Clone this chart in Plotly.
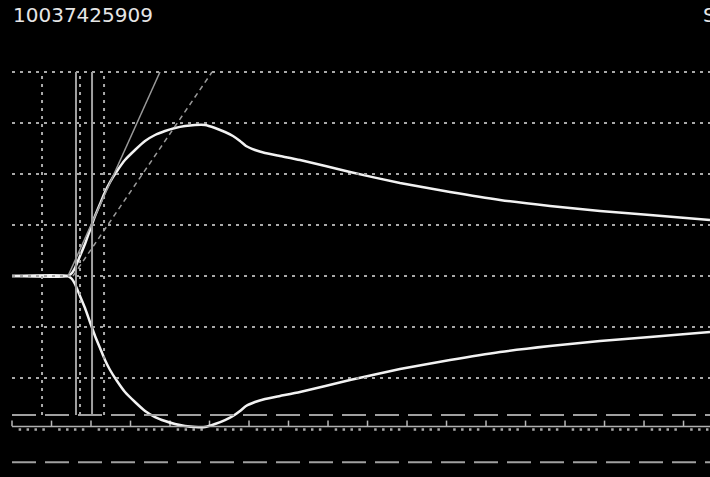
import plotly.graph_objects as go

# Trace timing (minutes) and half-amplitude (mm) of the clot trace
time_min = [0.0, 7.09, 7.59, 7.97, 8.61, 9.24, 9.87, 10.51, 11.14, 11.77, 12.41,
            13.29, 14.30, 15.57, 16.84, 18.10, 19.37, 20.63, 21.90, 23.16, 24.43,
            25.70, 26.96, 27.97, 28.86, 29.62, 30.76, 32.03, 33.92, 36.46, 42.78,
            49.11, 55.44, 61.77, 68.10, 74.43, 80.76, 88.35]
amplitude_mm = [0.0, 0.0, 0.59, 1.57, 3.92, 6.27, 9.02, 11.76, 14.12, 16.47, 18.43,
                20.59, 22.75, 24.71, 26.47, 27.65, 28.43, 29.02, 29.41, 29.61, 29.61,
                29.02, 28.24, 27.45, 26.47, 25.49, 24.71, 24.12, 23.53, 22.75, 20.39,
                18.24, 16.47, 14.90, 13.73, 12.75, 11.96, 10.98]

# Marker positions (minutes)
dotted_markers = [3.80, 8.61, 11.65]
solid_markers = [8.10, 10.13]
# Tangent lines: (start time, end time) from baseline to the 40 mm grid line
tangent_solid = (7.09, 18.73)
tangent_dashed = (7.72, 25.32)

grid_levels = [40, 30, 20, 10, 0, -10, -20]
dashed_levels = [-27.25, -36.5]
time_axis_level = -29.5
marker_top, marker_bottom = 40, -27.25

sample_id = "10037425909"

X_RANGE = [-1.519, 88.35]
Y_RANGE = [-39.41, 54.12]
T_END = X_RANGE[1]

GRID = "#a9a9a9"
fig = go.Figure()
shapes = []

for lv in grid_levels:
    shapes.append(dict(type="line", xref="x", yref="y", x0=0, x1=T_END, y0=lv, y1=lv,
                       line=dict(color=GRID, width=2, dash="3px,5px")))
for lv in dashed_levels:
    shapes.append(dict(type="line", xref="x", yref="y", x0=0, x1=T_END, y0=lv, y1=lv,
                       line=dict(color="#a0a0a0", width=2, dash="24px,9px")))
shapes.append(dict(type="line", xref="x", yref="y", x0=0, x1=T_END,
                   y0=time_axis_level, y1=time_axis_level,
                   line=dict(color="#b0b0b0", width=1.5)))
for t in dotted_markers:
    shapes.append(dict(type="line", xref="x", yref="y", x0=t, x1=t,
                       y0=marker_bottom, y1=marker_top,
                       line=dict(color=GRID, width=2, dash="3px,5px")))
for t in solid_markers:
    shapes.append(dict(type="line", xref="x", yref="y", x0=t, x1=t,
                       y0=marker_bottom, y1=marker_top,
                       line=dict(color="#a0a0a0", width=2)))
shapes.append(dict(type="line", xref="x", yref="y", x0=tangent_solid[0], x1=tangent_solid[1],
                   y0=0, y1=marker_top, line=dict(color="#9a9a9a", width=1.5)))
shapes.append(dict(type="line", xref="x", yref="y", x0=tangent_dashed[0], x1=tangent_dashed[1],
                   y0=0, y1=marker_top, line=dict(color="#9a9a9a", width=1.5, dash="5px,4px")))

# Time scale ticks: major every 5 min (above the line), minor every minute (below)
major_t = list(range(0, 90, 5))
minor_t = [m for m in range(0, 89) if m % 5 != 0]
fig.add_trace(go.Scatter(x=major_t, y=[time_axis_level + 0.6] * len(major_t), mode="markers",
                         marker=dict(symbol="line-ns", size=4, line=dict(color="#b8b8b8", width=1.5)),
                         hoverinfo="skip", showlegend=False))
fig.add_trace(go.Scatter(x=minor_t, y=[time_axis_level - 0.6] * len(minor_t), mode="markers",
                         marker=dict(symbol="square", size=2.5, color="#a8a8a8", line=dict(width=0)),
                         hoverinfo="skip", showlegend=False))

# Upper and lower halves of the trace
for sign in (1, -1):
    fig.add_trace(go.Scatter(x=time_min, y=[sign * a for a in amplitude_mm], mode="lines",
                             line=dict(color="#f2f2f2", width=2.5, shape="spline", smoothing=0.5),
                             hoverinfo="skip", showlegend=False))

fig.add_annotation(text=sample_id, xref="paper", yref="paper", x=11 / 710, y=1 - 1 / 477,
                   xanchor="left", yanchor="top", showarrow=False,
                   font=dict(family="DejaVu Sans", size=20, color="#e6e6e6"))
fig.add_annotation(text="S", xref="paper", yref="paper", x=701 / 710, y=1 - 1 / 477,
                   xanchor="left", yanchor="top", showarrow=False,
                   font=dict(family="DejaVu Sans", size=20, color="#e6e6e6"))

fig.update_layout(
    width=710, height=477, margin=dict(l=0, r=0, t=0, b=0),
    paper_bgcolor="black", plot_bgcolor="black", shapes=shapes,
    xaxis=dict(range=X_RANGE, visible=False, fixedrange=True),
    yaxis=dict(range=Y_RANGE, visible=False, fixedrange=True),
)

fig.write_html("out.html")
